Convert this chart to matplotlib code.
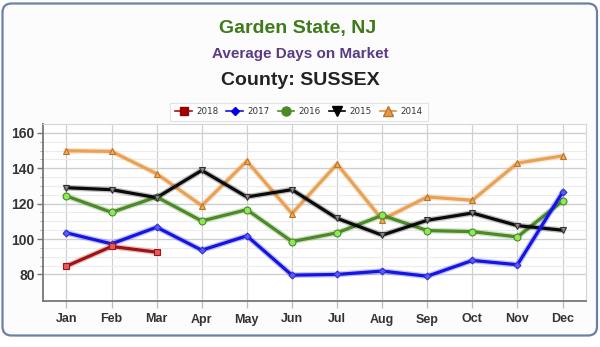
import matplotlib
matplotlib.use("Agg")
import matplotlib.pyplot as plt
from matplotlib.patches import FancyBboxPatch
from matplotlib.lines import Line2D
import matplotlib.patheffects as pe

plt.rcParams['font.family'] = ['Liberation Sans', 'DejaVu Sans']

months = ["Jan", "Feb", "Mar", "Apr", "May", "Jun",
          "Jul", "Aug", "Sep", "Oct", "Nov", "Dec"]

days_2018 = [84.7, 95.8, 92.6]
days_2017 = [103.5, 97.3, 106.7, 93.7, 101.8, 79.6, 80.0, 81.9, 79.0, 87.9, 85.5, 126.4]
days_2016 = [124.3, 115.1, 123.8, 110.2, 116.6, 98.6, 103.5, 113.4, 104.8, 104.2, 101.2, 121.5]
days_2015 = [129.0, 127.9, 123.4, 138.8, 123.8, 127.9, 111.7, 102.2, 110.6, 114.7, 107.6, 105.0]
days_2014 = [149.9, 149.5, 136.9, 118.9, 144.0, 114.4, 142.4, 111.0, 123.8, 121.9, 142.9, 147.0]

W, H = 600, 347
fig = plt.figure(figsize=(W / 100, H / 100), dpi=100)
fig.patch.set_facecolor("white")

# background layer in pixel units holding the rounded frame
bg = fig.add_axes([0, 0, 1, 1], zorder=-5)
bg.set_xlim(0, W)
bg.set_ylim(H, 0)
bg.axis("off")
bg.add_patch(FancyBboxPatch((2.5, 3.5), W - 5.5, 332, boxstyle="round,pad=0,rounding_size=9",
                            facecolor="#fcfcfc", edgecolor="#6a80a8", linewidth=1.6))

# titles
fig.text(298 / W, 1 - 29 / H, "Garden State, NJ", ha="center", va="center",
         fontsize=14, fontweight="bold", color="#3f7a1c")
fig.text(300 / W, 1 - 54 / H, "Average Days on Market", ha="center", va="center",
         fontsize=11, fontweight="bold", color="#5b3a86")
fig.text(300 / W, 1 - 80.5 / H, "County: SUSSEX", ha="center", va="center",
         fontsize=14, fontweight="bold", color="#222222")

left, right, top, bottom = 43, 586, 124, 301
ax = fig.add_axes([left / W, 1 - bottom / H, (right - left) / W, (bottom - top) / H])
ax.set_facecolor("white")

x = list(range(len(months)))

series = [
    (days_2014, "#e9a155", "^", "#f2a954", "#b8752c", 5.0),
    (days_2016, "#4b8a26", "o", "#8fe85a", "#4b8a26", 5.0),
    (days_2015, "#0a0a0a", "v", "#8a8a8a", "#333333", 5.0),
    (days_2017, "#1414e6", "D", "#5a5aff", "#3030d0", 3.5),
    (days_2018, "#a11212", "s", "#e55a5a", "#a11212", 4.3),
]

for z, (vals, lc, mk, mfc, mec, ms) in enumerate(series):
    xs = x[:len(vals)]
    # line with a soft glow
    ax.plot(xs, vals, color=lc, lw=2.3, zorder=3 + 2 * z, solid_joinstyle="round",
            path_effects=[pe.Stroke(linewidth=4.2, foreground=lc, alpha=0.25),
                          pe.Normal()])
    # point markers on top
    ax.plot(xs, vals, linestyle="none", marker=mk, markersize=ms,
            markerfacecolor=mfc, markeredgecolor=mec, markeredgewidth=0.8,
            zorder=4 + 2 * z)

ax.set_xlim(-0.52, 11.52)
ax.set_ylim(65, 165)
ax.set_xticks(x)
ax.set_xticklabels(months)
ax.set_yticks([80, 100, 120, 140, 160])
ax.set_yticks([y for y in range(85, 165, 5) if y % 20 != 0], minor=True)

# gridlines
for xv in x:
    ax.axvline(xv, color="#d0d0d0", lw=0.9, zorder=1)
for yv in range(80, 165, 5):
    if yv % 20 == 0:
        ax.axhline(yv, color="#cfcfcf", lw=1.0, zorder=1)
    else:
        ax.axhline(yv, color="#ececec", lw=0.8, zorder=1)

for s in ["top", "right"]:
    ax.spines[s].set_color("#d6d6d6")
    ax.spines[s].set_linewidth(0.8)
for s in ["left", "bottom"]:
    ax.spines[s].set_color("#777777")
    ax.spines[s].set_linewidth(1.3)

ax.tick_params(axis="x", length=5, width=0.9, color="#bbbbbb", pad=4,
               labelsize=9, labelcolor="#333333")
ax.tick_params(axis="y", which="major", length=4, width=1.0, color="#777777",
               pad=2, labelsize=10, labelcolor="#333333")
ax.tick_params(axis="y", which="minor", length=2, width=0.6, color="#999999")
for lab in ax.get_xticklabels() + ax.get_yticklabels():
    lab.set_fontweight("bold")

# legend
handles = [
    Line2D([], [], color="#a11212", lw=1.2, marker="s", markersize=5.5,
           markerfacecolor="#9b0000", markeredgecolor="#9b0000"),
    Line2D([], [], color="#1414e6", lw=1.2, marker="D", markersize=4.5,
           markerfacecolor="#0000e0", markeredgecolor="#0000e0"),
    Line2D([], [], color="#4b8a26", lw=1.2, marker="o", markersize=6.5,
           markerfacecolor="#4b8a26", markeredgecolor="#4b8a26"),
    Line2D([], [], color="#000000", lw=1.2, marker="v", markersize=6.5,
           markerfacecolor="#000000", markeredgecolor="#000000"),
    Line2D([], [], color="#e09040", lw=1.2, marker="^", markersize=6.5,
           markerfacecolor="#e8983f", markeredgecolor="#b8752c"),
]
labels = ["2018", "2017", "2016", "2015", "2014"]
leg = fig.legend(handles, labels, loc="center", bbox_to_anchor=(299 / W, 1 - 112 / H),
                 ncol=5, frameon=True, handlelength=1.9,
                 handletextpad=0.5, columnspacing=0.9, borderpad=0.55,
                 fancybox=False, prop={"family": "DejaVu Sans", "size": 6.3})
leg.get_frame().set_edgecolor("#dddddd")
leg.get_frame().set_linewidth(0.8)
for t in leg.get_texts():
    t.set_color("#333333")

fig.savefig("out.png", dpi=100)
